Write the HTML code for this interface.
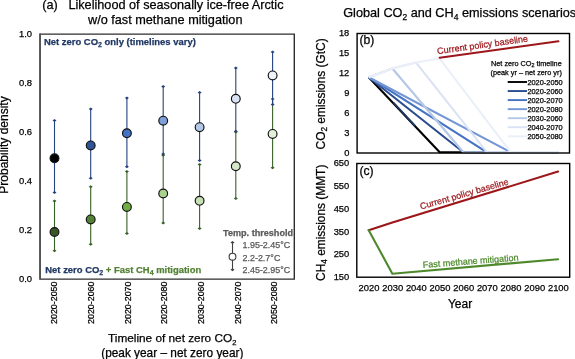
<!DOCTYPE html>
<html><head><meta charset="utf-8"><style>
html,body{margin:0;padding:0;background:#fff;}
body{width:575px;height:359px;overflow:hidden;position:relative;font-family:"Liberation Sans",sans-serif;}
svg{position:absolute;left:0;top:0;will-change:transform;}
text{stroke-width:0.25px;}
</style></head><body>
<svg width="575" height="359" viewBox="0 0 575 359">
<text x="42.2" y="9.3" font-size="12.7" font-family="Liberation Sans, sans-serif" fill="#000" stroke="#000">(a)</text>
<text x="68.4" y="9.3" font-size="12.7" font-family="Liberation Sans, sans-serif" fill="#000" stroke="#000">Likelihood of seasonally ice-free Arctic</text>
<text x="88.0" y="23.6" font-size="12.7" font-family="Liberation Sans, sans-serif" fill="#000" stroke="#000">w/o fast methane mitigation</text>
<path d="M40.1 34.1 H294.3 V279.1 H40.1 Z" fill="none" stroke="#2e2e2e" stroke-width="1.4"/>
<line x1="40.0" y1="33.5" x2="40.0" y2="279.4" stroke="#555" stroke-width="1.6"/>
<text x="32.0" y="37.3" font-size="9.4" font-family="Liberation Sans, sans-serif" text-anchor="end" fill="#000" stroke="#000">1.0</text>
<text x="32.0" y="86.3" font-size="9.4" font-family="Liberation Sans, sans-serif" text-anchor="end" fill="#000" stroke="#000">0.8</text>
<text x="32.0" y="135.3" font-size="9.4" font-family="Liberation Sans, sans-serif" text-anchor="end" fill="#000" stroke="#000">0.6</text>
<text x="32.0" y="184.3" font-size="9.4" font-family="Liberation Sans, sans-serif" text-anchor="end" fill="#000" stroke="#000">0.4</text>
<text x="32.0" y="233.3" font-size="9.4" font-family="Liberation Sans, sans-serif" text-anchor="end" fill="#000" stroke="#000">0.2</text>
<text x="32.0" y="282.3" font-size="9.4" font-family="Liberation Sans, sans-serif" text-anchor="end" fill="#000" stroke="#000">0.0</text>
<text transform="translate(8.3,145.0) rotate(-90)" font-size="12" font-family="Liberation Sans, sans-serif" text-anchor="middle" fill="#000" stroke="#000">Probability density</text>
<text transform="translate(57.35,281.5) rotate(-90)" font-size="8.9" font-family="Liberation Sans, sans-serif" text-anchor="end" fill="#000" stroke="#000">2020-2050</text>
<text transform="translate(94.03,281.5) rotate(-90)" font-size="8.9" font-family="Liberation Sans, sans-serif" text-anchor="end" fill="#000" stroke="#000">2020-2060</text>
<text transform="translate(130.71,281.5) rotate(-90)" font-size="8.9" font-family="Liberation Sans, sans-serif" text-anchor="end" fill="#000" stroke="#000">2020-2070</text>
<text transform="translate(167.39,281.5) rotate(-90)" font-size="8.9" font-family="Liberation Sans, sans-serif" text-anchor="end" fill="#000" stroke="#000">2020-2080</text>
<text transform="translate(204.07,281.5) rotate(-90)" font-size="8.9" font-family="Liberation Sans, sans-serif" text-anchor="end" fill="#000" stroke="#000">2030-2060</text>
<text transform="translate(240.75,281.5) rotate(-90)" font-size="8.9" font-family="Liberation Sans, sans-serif" text-anchor="end" fill="#000" stroke="#000">2040-2070</text>
<text transform="translate(277.43,281.5) rotate(-90)" font-size="8.9" font-family="Liberation Sans, sans-serif" text-anchor="end" fill="#000" stroke="#000">2050-2080</text>
<text x="108.0" y="342.4" font-size="11.8" font-family="Liberation Sans, sans-serif" fill="#000" stroke="#000">Timeline of net zero CO<tspan font-size="7.5" dy="2.4">2</tspan></text>
<text x="101.2" y="356.5" font-size="11.85" font-family="Liberation Sans, sans-serif" fill="#000" stroke="#000">(peak year – net zero year)</text>
<text x="44" y="45.4" font-size="9.45" font-weight="bold" font-family="Liberation Sans, sans-serif" fill="#203864" stroke="#203864">Net zero CO<tspan font-size="7" dy="2">2</tspan><tspan dy="-2"> only (timelines vary)</tspan></text>
<text x="45.3" y="273.0" font-size="9.45" font-weight="bold" font-family="Liberation Sans, sans-serif" fill="#203864" stroke="#203864">Net zero CO<tspan font-size="7" dy="2">2</tspan><tspan dy="-2" fill="#548235" stroke="#548235"> + Fast CH</tspan><tspan font-size="7" dy="2" fill="#548235" stroke="#548235">4</tspan><tspan dy="-2" fill="#548235" stroke="#548235"> mitigation</tspan></text>
<line x1="54.5" y1="200.9" x2="54.5" y2="250.8" stroke="#396226" stroke-width="1.1"/><path d="M54.50 199.40L56.50 200.90L54.50 202.40L52.50 200.90Z" fill="#396226"/><path d="M54.50 249.30L56.50 250.80L54.50 252.30L52.50 250.80Z" fill="#396226"/>
<line x1="54.5" y1="120.5" x2="54.5" y2="192.5" stroke="#24427e" stroke-width="1.1"/><path d="M54.50 119.00L56.50 120.50L54.50 122.00L52.50 120.50Z" fill="#24427e"/><path d="M54.50 191.00L56.50 192.50L54.50 194.00L52.50 192.50Z" fill="#24427e"/>
<line x1="90.7" y1="186.7" x2="90.7" y2="244.3" stroke="#396226" stroke-width="1.1"/><path d="M90.70 185.20L92.70 186.70L90.70 188.20L88.70 186.70Z" fill="#396226"/><path d="M90.70 242.80L92.70 244.30L90.70 245.80L88.70 244.30Z" fill="#396226"/>
<line x1="90.7" y1="109.0" x2="90.7" y2="178.3" stroke="#24427e" stroke-width="1.1"/><path d="M90.70 107.50L92.70 109.00L90.70 110.50L88.70 109.00Z" fill="#24427e"/><path d="M90.70 176.80L92.70 178.30L90.70 179.80L88.70 178.30Z" fill="#24427e"/>
<line x1="126.9" y1="171.4" x2="126.9" y2="233.5" stroke="#396226" stroke-width="1.1"/><path d="M126.90 169.90L128.90 171.40L126.90 172.90L124.90 171.40Z" fill="#396226"/><path d="M126.90 232.00L128.90 233.50L126.90 235.00L124.90 233.50Z" fill="#396226"/>
<line x1="126.9" y1="98.1" x2="126.9" y2="166.7" stroke="#24427e" stroke-width="1.1"/><path d="M126.90 96.60L128.90 98.10L126.90 99.60L124.90 98.10Z" fill="#24427e"/><path d="M126.90 165.20L128.90 166.70L126.90 168.20L124.90 166.70Z" fill="#24427e"/>
<line x1="163.2" y1="155.3" x2="163.2" y2="223.0" stroke="#396226" stroke-width="1.1"/><path d="M163.20 153.80L165.20 155.30L163.20 156.80L161.20 155.30Z" fill="#396226"/><path d="M163.20 221.50L165.20 223.00L163.20 224.50L161.20 223.00Z" fill="#396226"/>
<line x1="163.2" y1="86.5" x2="163.2" y2="154.1" stroke="#24427e" stroke-width="1.1"/><path d="M163.20 85.00L165.20 86.50L163.20 88.00L161.20 86.50Z" fill="#24427e"/><path d="M163.20 152.60L165.20 154.10L163.20 155.60L161.20 154.10Z" fill="#24427e"/>
<line x1="199.6" y1="164.5" x2="199.6" y2="228.5" stroke="#396226" stroke-width="1.1"/><path d="M199.60 163.00L201.60 164.50L199.60 166.00L197.60 164.50Z" fill="#396226"/><path d="M199.60 227.00L201.60 228.50L199.60 230.00L197.60 228.50Z" fill="#396226"/>
<line x1="199.6" y1="92.6" x2="199.6" y2="160.5" stroke="#24427e" stroke-width="1.1"/><path d="M199.60 91.10L201.60 92.60L199.60 94.10L197.60 92.60Z" fill="#24427e"/><path d="M199.60 159.00L201.60 160.50L199.60 162.00L197.60 160.50Z" fill="#24427e"/>
<line x1="235.8" y1="131.9" x2="235.8" y2="198.5" stroke="#396226" stroke-width="1.1"/><path d="M235.80 130.40L237.80 131.90L235.80 133.40L233.80 131.90Z" fill="#396226"/><path d="M235.80 197.00L237.80 198.50L235.80 200.00L233.80 198.50Z" fill="#396226"/>
<line x1="235.8" y1="68.1" x2="235.8" y2="131.3" stroke="#24427e" stroke-width="1.1"/><path d="M235.80 66.60L237.80 68.10L235.80 69.60L233.80 68.10Z" fill="#24427e"/><path d="M235.80 129.80L237.80 131.30L235.80 132.80L233.80 131.30Z" fill="#24427e"/>
<line x1="272.6" y1="99.0" x2="272.6" y2="167.8" stroke="#396226" stroke-width="1.1"/><path d="M272.60 97.50L274.60 99.00L272.60 100.50L270.60 99.00Z" fill="#396226"/><path d="M272.60 166.30L274.60 167.80L272.60 169.30L270.60 167.80Z" fill="#396226"/>
<line x1="272.6" y1="51.9" x2="272.6" y2="104.6" stroke="#24427e" stroke-width="1.1"/><path d="M272.60 50.40L274.60 51.90L272.60 53.40L270.60 51.90Z" fill="#24427e"/><path d="M272.60 103.10L274.60 104.60L272.60 106.10L270.60 104.60Z" fill="#24427e"/>
<circle cx="54.5" cy="232" r="4.4" fill="#385723" stroke="#111" stroke-width="1.15"/>
<circle cx="54.5" cy="158.3" r="4.4" fill="#000000" stroke="#111" stroke-width="1.15"/>
<circle cx="90.7" cy="219.4" r="4.4" fill="#548235" stroke="#111" stroke-width="1.15"/>
<circle cx="90.7" cy="145.4" r="4.4" fill="#2f5597" stroke="#111" stroke-width="1.15"/>
<circle cx="126.9" cy="206.9" r="4.4" fill="#70ad47" stroke="#111" stroke-width="1.15"/>
<circle cx="126.9" cy="133.2" r="4.4" fill="#4472c4" stroke="#111" stroke-width="1.15"/>
<circle cx="163.2" cy="193.5" r="4.4" fill="#a9d18e" stroke="#111" stroke-width="1.15"/>
<circle cx="163.2" cy="120.7" r="4.4" fill="#7f9fd8" stroke="#111" stroke-width="1.15"/>
<circle cx="199.6" cy="200.8" r="4.4" fill="#c5e0b4" stroke="#111" stroke-width="1.15"/>
<circle cx="199.6" cy="127.2" r="4.4" fill="#b4c7e7" stroke="#111" stroke-width="1.15"/>
<circle cx="235.8" cy="166.2" r="4.4" fill="#d5e8c8" stroke="#111" stroke-width="1.15"/>
<circle cx="235.8" cy="98.8" r="4.4" fill="#dae3f3" stroke="#111" stroke-width="1.15"/>
<circle cx="272.6" cy="133.9" r="4.4" fill="#e2f0d9" stroke="#111" stroke-width="1.15"/>
<circle cx="272.6" cy="75.4" r="4.4" fill="#eef2f9" stroke="#111" stroke-width="1.15"/>
<text x="223.0" y="235.7" font-size="9.1" font-weight="bold" font-family="Liberation Sans, sans-serif" fill="#595959" stroke="#595959">Temp. threshold</text>
<line x1="232.5" y1="242.6" x2="232.5" y2="269.8" stroke="#404040" stroke-width="1.1"/><path d="M232.50 241.10L234.50 242.60L232.50 244.10L230.50 242.60Z" fill="#404040"/><path d="M232.50 268.30L234.50 269.80L232.50 271.30L230.50 269.80Z" fill="#404040"/>
<circle cx="232.5" cy="256.7" r="3.4" fill="#fff" stroke="#404040" stroke-width="1.1"/>
<text x="242.5" y="247.7" font-size="8.95" font-family="Liberation Sans, sans-serif" fill="#595959" stroke="#595959">1.95-2.45°C</text>
<text x="242.5" y="260.6" font-size="8.95" font-family="Liberation Sans, sans-serif" fill="#595959" stroke="#595959">2.2-2.7°C</text>
<text x="242.5" y="273.3" font-size="8.95" font-family="Liberation Sans, sans-serif" fill="#595959" stroke="#595959">2.45-2.95°C</text>
<text x="343.2" y="17" font-size="12.7" font-family="Liberation Sans, sans-serif" fill="#000" stroke="#000">Global CO<tspan font-size="8.5" dy="2.6">2</tspan><tspan dy="-2.6"> and CH</tspan><tspan font-size="8.5" dy="2.6">4</tspan><tspan dy="-2.6"> emissions scenarios</tspan></text>
<text x="349.3" y="36.19" font-size="9.3" font-family="Liberation Sans, sans-serif" text-anchor="end" fill="#000" stroke="#000">18</text>
<text x="349.3" y="56.19" font-size="9.3" font-family="Liberation Sans, sans-serif" text-anchor="end" fill="#000" stroke="#000">15</text>
<text x="349.3" y="76.20" font-size="9.3" font-family="Liberation Sans, sans-serif" text-anchor="end" fill="#000" stroke="#000">12</text>
<text x="349.3" y="96.20" font-size="9.3" font-family="Liberation Sans, sans-serif" text-anchor="end" fill="#000" stroke="#000">9</text>
<text x="349.3" y="116.20" font-size="9.3" font-family="Liberation Sans, sans-serif" text-anchor="end" fill="#000" stroke="#000">6</text>
<text x="349.3" y="136.20" font-size="9.3" font-family="Liberation Sans, sans-serif" text-anchor="end" fill="#000" stroke="#000">3</text>
<text x="349.3" y="156.20" font-size="9.3" font-family="Liberation Sans, sans-serif" text-anchor="end" fill="#000" stroke="#000">0</text>
<text transform="translate(325.3,93.9) rotate(-90)" font-size="11.9" font-family="Liberation Sans, sans-serif" text-anchor="middle" fill="#000" stroke="#000">CO<tspan font-size="8.3" dy="2.0">2</tspan><tspan dy="-2.0"> emissions (GtC)</tspan></text>
<text x="359.4" y="44.3" font-size="12.2" font-family="Liberation Sans, sans-serif" fill="#000" stroke="#000">(b)</text>
<path d="M368.70 77.20 L439.71 152.30 L558.06 152.30" fill="none" stroke="#000000" stroke-width="2.1" stroke-linejoin="round"/>
<path d="M368.70 77.20 L463.38 152.30 L558.06 152.30" fill="none" stroke="#2a4d8f" stroke-width="2.1" stroke-linejoin="round"/>
<path d="M368.70 77.20 L487.05 152.30 L558.06 152.30" fill="none" stroke="#4472c4" stroke-width="2.1" stroke-linejoin="round"/>
<path d="M368.70 77.20 L510.72 152.30 L558.06 152.30" fill="none" stroke="#7396d6" stroke-width="2.1" stroke-linejoin="round"/>
<path d="M368.70 77.20 L392.37 68.53 L463.38 152.30 L558.06 152.30" fill="none" stroke="#b4c7e7" stroke-width="2.1" stroke-linejoin="round"/>
<path d="M368.70 77.20 L392.37 68.53 L416.04 62.53 L487.05 152.30 L558.06 152.30" fill="none" stroke="#dae3f3" stroke-width="2.1" stroke-linejoin="round"/>
<path d="M368.70 77.20 L392.37 68.53 L416.04 62.53 L439.71 58.53 L510.72 152.30 L558.06 152.30" fill="none" stroke="#eaeff8" stroke-width="2.1" stroke-linejoin="round"/>
<line x1="393.4" y1="102.6" x2="415.1" y2="125.9" stroke="#1f3864" stroke-width="1.9"/>
<rect x="357.1" y="33.5" width="212.4" height="119.5" fill="none" stroke="#000" stroke-width="1.4"/>
<line x1="439.71" y1="57.7" x2="558.36" y2="41.3" stroke="#9c161a" stroke-width="2.1" stroke-linecap="round"/>
<text transform="translate(437.6,54.2) rotate(-8)" font-size="9" font-family="Liberation Sans, sans-serif" fill="#9c161a" stroke="#9c161a">Current policy baseline</text>
<text x="491" y="65.5" font-size="7.3" font-family="Liberation Sans, sans-serif" fill="#000" stroke="#000">Net zero CO<tspan font-size="5.4" dy="1.6">2</tspan><tspan dy="-1.6"> timeline</tspan></text>
<text x="490.5" y="74.5" font-size="7.3" font-family="Liberation Sans, sans-serif" fill="#000" stroke="#000">(peak yr – net zero yr)</text>
<line x1="507.7" y1="82.00" x2="527" y2="82.00" stroke="#000000" stroke-width="1.9"/>
<text x="527.4" y="84.50" font-size="7.4" font-family="Liberation Sans, sans-serif" fill="#000" stroke="#000">2020-2050</text>
<line x1="507.7" y1="91.05" x2="527" y2="91.05" stroke="#2a4d8f" stroke-width="1.9"/>
<text x="527.4" y="93.55" font-size="7.4" font-family="Liberation Sans, sans-serif" fill="#000" stroke="#000">2020-2060</text>
<line x1="507.7" y1="100.10" x2="527" y2="100.10" stroke="#4472c4" stroke-width="1.9"/>
<text x="527.4" y="102.60" font-size="7.4" font-family="Liberation Sans, sans-serif" fill="#000" stroke="#000">2020-2070</text>
<line x1="507.7" y1="109.15" x2="527" y2="109.15" stroke="#7396d6" stroke-width="1.9"/>
<text x="527.4" y="111.65" font-size="7.4" font-family="Liberation Sans, sans-serif" fill="#000" stroke="#000">2020-2080</text>
<line x1="507.7" y1="118.20" x2="527" y2="118.20" stroke="#b4c7e7" stroke-width="1.9"/>
<text x="527.4" y="120.70" font-size="7.4" font-family="Liberation Sans, sans-serif" fill="#000" stroke="#000">2030-2060</text>
<line x1="507.7" y1="127.25" x2="527" y2="127.25" stroke="#dae3f3" stroke-width="1.9"/>
<text x="527.4" y="129.75" font-size="7.4" font-family="Liberation Sans, sans-serif" fill="#000" stroke="#000">2040-2070</text>
<line x1="507.7" y1="136.30" x2="527" y2="136.30" stroke="#eaeff8" stroke-width="1.9"/>
<text x="527.4" y="138.80" font-size="7.4" font-family="Liberation Sans, sans-serif" fill="#000" stroke="#000">2050-2080</text>
<rect x="356.8" y="163.5" width="212.9" height="113.7" fill="none" stroke="#000" stroke-width="1.4"/>
<text x="349.2" y="166.20" font-size="9.3" font-family="Liberation Sans, sans-serif" text-anchor="end" fill="#000" stroke="#000">650</text>
<text x="349.2" y="189.00" font-size="9.3" font-family="Liberation Sans, sans-serif" text-anchor="end" fill="#000" stroke="#000">550</text>
<text x="349.2" y="211.80" font-size="9.3" font-family="Liberation Sans, sans-serif" text-anchor="end" fill="#000" stroke="#000">450</text>
<text x="349.2" y="234.60" font-size="9.3" font-family="Liberation Sans, sans-serif" text-anchor="end" fill="#000" stroke="#000">350</text>
<text x="349.2" y="257.40" font-size="9.3" font-family="Liberation Sans, sans-serif" text-anchor="end" fill="#000" stroke="#000">250</text>
<text x="349.2" y="280.20" font-size="9.3" font-family="Liberation Sans, sans-serif" text-anchor="end" fill="#000" stroke="#000">150</text>
<text transform="translate(325.4,222.8) rotate(-90)" font-size="11.9" font-family="Liberation Sans, sans-serif" text-anchor="middle" fill="#000" stroke="#000">CH<tspan font-size="8.3" dy="2.0">4</tspan><tspan dy="-2.0"> emissions (MMT)</tspan></text>
<text x="359.4" y="174.7" font-size="12.2" font-family="Liberation Sans, sans-serif" fill="#000" stroke="#000">(c)</text>
<path d="M368.70 230.2 L392.37 222.5 L558.06 171.6" fill="none" stroke="#9c161a" stroke-width="2.1" stroke-linejoin="round" stroke-linecap="round"/>
<path d="M368.70 230.2 L392.37 273.7 L558.06 259.2" fill="none" stroke="#4e8a2c" stroke-width="2.1" stroke-linejoin="round" stroke-linecap="round"/>
<text transform="translate(421,209.6) rotate(-16)" font-size="9" font-family="Liberation Sans, sans-serif" fill="#9c161a" stroke="#9c161a">Current policy baseline</text>
<text transform="translate(423,268) rotate(-4.5)" font-size="9" font-family="Liberation Sans, sans-serif" fill="#4e8a2c" stroke="#4e8a2c">Fast methane mitigation</text>
<text x="369.00" y="290.7" font-size="9.4" font-family="Liberation Sans, sans-serif" text-anchor="middle" fill="#000" stroke="#000">2020</text>
<text x="392.67" y="290.7" font-size="9.4" font-family="Liberation Sans, sans-serif" text-anchor="middle" fill="#000" stroke="#000">2030</text>
<text x="416.34" y="290.7" font-size="9.4" font-family="Liberation Sans, sans-serif" text-anchor="middle" fill="#000" stroke="#000">2040</text>
<text x="440.01" y="290.7" font-size="9.4" font-family="Liberation Sans, sans-serif" text-anchor="middle" fill="#000" stroke="#000">2050</text>
<text x="463.68" y="290.7" font-size="9.4" font-family="Liberation Sans, sans-serif" text-anchor="middle" fill="#000" stroke="#000">2060</text>
<text x="487.35" y="290.7" font-size="9.4" font-family="Liberation Sans, sans-serif" text-anchor="middle" fill="#000" stroke="#000">2070</text>
<text x="511.02" y="290.7" font-size="9.4" font-family="Liberation Sans, sans-serif" text-anchor="middle" fill="#000" stroke="#000">2080</text>
<text x="534.69" y="290.7" font-size="9.4" font-family="Liberation Sans, sans-serif" text-anchor="middle" fill="#000" stroke="#000">2090</text>
<text x="558.36" y="290.7" font-size="9.4" font-family="Liberation Sans, sans-serif" text-anchor="middle" fill="#000" stroke="#000">2100</text>
<text x="460" y="307.8" font-size="12" font-family="Liberation Sans, sans-serif" text-anchor="middle" fill="#000" stroke="#000">Year</text>
</svg>
</body></html>
